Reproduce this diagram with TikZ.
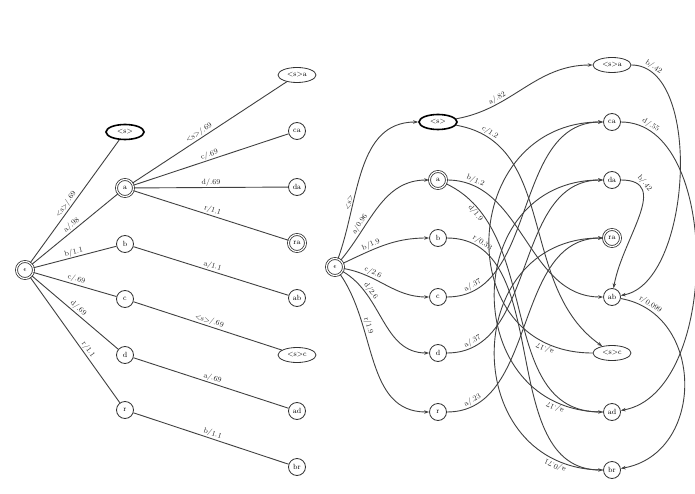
\documentclass[tikz,border=0pt]{standalone}
\usetikzlibrary{shapes.geometric,arrows.meta}
\begin{document}
\begin{tikzpicture}[x=1pt,y=-1pt,
  st/.style={draw=black!80,line width=0.8pt,circle,inner sep=0pt,minimum size=17pt,font=\fontsize{7.5}{8}\selectfont},
  fin/.style={st,double,double distance=1.2pt},
  el/.style={draw=black!80,line width=0.8pt,ellipse,inner sep=0pt,minimum width=38pt,minimum height=15pt,font=\fontsize{7.5}{8}\selectfont},
  start/.style={el,line width=1.6pt,draw=black},
  ln/.style={draw=black!75,line width=0.9pt},
  ar/.style={ln,-{Stealth[length=5pt,width=3.5pt]}},
  lab/.style={font=\fontsize{7.5}{8}\selectfont,sloped,above,inner sep=1pt,text=black!85,allow upside down}]
\useasboundingbox (0,0) rectangle (695,494);
% left tree
\node[fin] (e) at (25,270) {$\epsilon$};
\node[start] (s) at (125,132) {<s>};
\node[fin] (a) at (125,188) {a};
\node[st] (b) at (125,244) {b};
\node[st] (c) at (125,299) {c};
\node[st] (d) at (125,355) {d};
\node[st] (r) at (125,410) {r};
\node[el] (sa) at (297,75) {<s>a};
\node[st] (ca) at (297,131) {ca};
\node[st] (da) at (297,187) {da};
\node[fin] (ra) at (297,243) {ra};
\node[st] (ab) at (297,298) {ab};
\node[el] (sc) at (297,355) {<s>c};
\node[st] (ad) at (297,411) {ad};
\node[st] (br) at (297,467) {br};
\draw[ln] (e) -- node[lab,pos=0.45]{<s>/.69} (s);
\draw[ln] (e) -- node[lab,pos=0.5]{a/.98} (a);
\draw[ln] (e) -- node[lab]{b/1.1} (b);
\draw[ln] (e) -- node[lab]{c/.69} (c);
\draw[ln] (e) -- node[lab]{d/.69} (d);
\draw[ln] (e) -- node[lab,pos=0.6]{r/1.1} (r);
\draw[ln] (a) -- node[lab,pos=0.45]{<s>/.69} (sa);
\draw[ln] (a) -- node[lab]{c/.69} (ca);
\draw[ln] (a) -- node[lab]{d/.69} (da);
\draw[ln] (a) -- node[lab]{r/1.1} (ra);
\draw[ln] (b) -- node[lab]{a/1.1} (ab);
\draw[ln] (c) -- node[lab]{<s>/.69} (sc);
\draw[ln] (d) -- node[lab]{a/.69} (ad);
\draw[ln] (r) -- node[lab]{b/1.1} (br);
% right graph
\node[fin] (E) at (335,267) {$\epsilon$};
\node[start] (S) at (438,122) {<s>};
\node[fin] (A) at (438,180) {a};
\node[st] (B) at (438,238) {b};
\node[st] (C) at (438,297) {c};
\node[st] (D) at (438,353) {d};
\node[st] (R) at (438,412) {r};
\node[el] (SA) at (612,65) {<s>a};
\node[st] (CA) at (612,122) {ca};
\node[st] (DA) at (612,180) {da};
\node[fin] (RA) at (612,238) {ra};
\node[st] (AB) at (612,297) {ab};
\node[el] (SC) at (612,353) {<s>c};
\node[st] (AD) at (612,412) {ad};
\node[st] (BR) at (612,470) {br};
\draw[ar] (E) to[out=70,in=180] node[lab,pos=0.3]{<s>} (S);
\draw[ar] (E) to[out=50,in=180] node[lab,pos=0.3]{a/0.96} (A);
\draw[ar] (E) to[out=25,in=180] node[lab,pos=0.35]{b/1.9} (B);
\draw[ar] (E) to[out=-10,in=180] node[lab,pos=0.3]{c/2.6} (C);
\draw[ar] (E) to[out=-30,in=180] node[lab,pos=0.25]{d/2.6} (D);
\draw[ar] (E) to[out=-55,in=180] node[lab,pos=0.3]{r/1.9} (R);
\draw[ar] (S) to[out=10,in=180] node[lab,pos=0.3]{a/.82} (SA);
\draw[ar] (S) to[out=-10,in=145] node[lab,pos=0.12]{c/1.2} (SC);
\draw[ar] (A) to[out=0,in=180] node[lab,pos=0.13]{b/1.2} (AB);
\draw[ar] (A) to[out=-25,in=180] node[lab,pos=0.14,below]{d/1.9} (AD);
\draw[ar] (B) to[out=0,in=180] node[lab,pos=0.12]{r/0.33} (BR);
\draw[ar] (C) to[out=0,in=180] node[lab,pos=0.12]{a/.37} (CA);
\draw[ar] (D) to[out=0,in=180] node[lab,pos=0.12]{a/.37} (DA);
\draw[ar] (R) to[out=0,in=180] node[lab,pos=0.12]{a/.23} (RA);
\draw[ar] (SA) to[out=0,in=10,looseness=0.8] node[lab,pos=0.1]{b/.42} (AB);
\draw[ar] (CA) to[out=0,in=10,looseness=0.9] node[lab,pos=0.1]{d/.55} (AD);
\draw[ar] (DA) to[out=0,in=80,looseness=1.2] node[lab,pos=0.2]{b/.42} (AB);
\draw[ar] (AB) to[out=-10,in=10,looseness=1.3] node[lab,pos=0.12]{r/0.099} (BR);
\draw[ar] (SC) to[out=180,in=180,looseness=1.6] node[lab,pos=0.12]{a/.17} (CA);
\draw[ar] (AD) to[out=180,in=180,looseness=1.6] node[lab,pos=0.12]{a/.17} (DA);
\draw[ar] (BR) to[out=180,in=180,looseness=1.6] node[lab,pos=0.12]{a/0.71} (RA);
\end{tikzpicture}
\end{document}
